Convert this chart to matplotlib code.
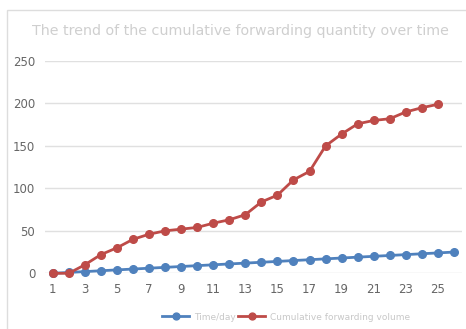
import matplotlib.pyplot as plt
from matplotlib.patches import Rectangle

days = list(range(1, 27))
time_day = list(range(0, 26))
cum_forward = [0, 0, 10, 22, 30, 40, 46, 50, 52, 54, 59, 63, 69, 84, 92,
               110, 120, 150, 164, 176, 180, 182, 190, 195, 199]
x_ticks = list(range(1, 26, 2))
y_ticks = [0, 50, 100, 150, 200, 250]

blue = '#4F81BD'
red = '#BE4B48'

fig = plt.figure(figsize=(4.66, 3.29), dpi=100)
# light frame around the whole chart
fig.patches.append(Rectangle((7 / 466, -0.05), 1.0, 1 - 10 / 329 + 0.05,
                             transform=fig.transFigure, fill=False,
                             edgecolor='#dddddd', linewidth=1))

ax = fig.add_axes([45 / 466, 1 - 273.3 / 329, 417 / 466, (273.3 - 61) / 329])
ax.plot(days, time_day, color=blue, lw=2, marker='o', ms=5.5,
        label='Time/day', clip_on=False, zorder=3)
ax.plot(days[:len(cum_forward)], cum_forward, color=red, lw=2, marker='o', ms=5.5,
        label='Cumulative forwarding volume', clip_on=False, zorder=4)

ax.set_xlim(0.52, 26.5)
ax.set_ylim(0, 250)
ax.set_xticks(x_ticks)
ax.set_yticks(y_ticks)
ax.grid(axis='y', color='#e0e0e0', lw=1)
ax.set_axisbelow(True)
for s in ax.spines.values():
    s.set_visible(False)
ax.tick_params(length=0, labelsize=8.5, colors='#666666')
ax.tick_params(axis='x', pad=7)
ax.tick_params(axis='y', pad=7)

fig.text(240 / 466, 1 - 31 / 329, 'The trend of the cumulative forwarding quantity over time',
         ha='center', va='center', fontsize=10.3, color='#cfcfcf')

fig.legend(loc='center', bbox_to_anchor=(286 / 466, 1 - 317 / 329), ncol=2,
           frameon=False, fontsize=6.5, labelcolor='#c8c8c8', handlelength=3,
           columnspacing=0.3, handletextpad=0.5, markerscale=0.9)

fig.savefig('out.png', dpi=100)
